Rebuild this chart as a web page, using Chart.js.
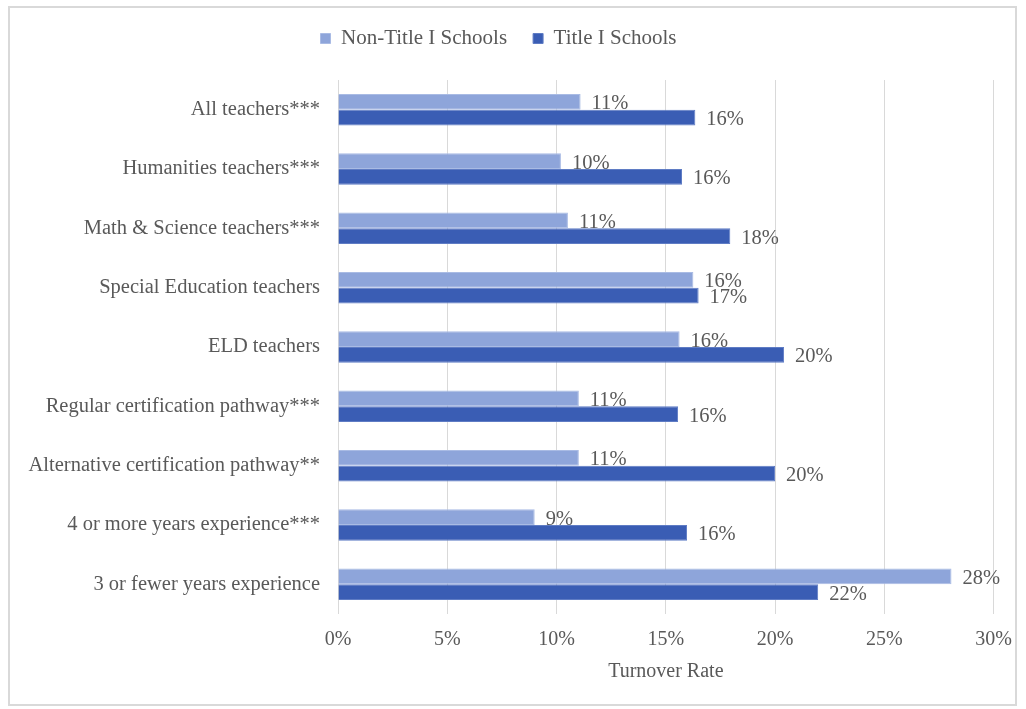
<!DOCTYPE html>
<html>
<head>
<meta charset="utf-8">
<script src="https://cdn.jsdelivr.net/npm/chart.js@4.4.0/dist/chart.umd.min.js"></script>
<style>
  html, body { margin: 0; padding: 0; background: #fff; }
  #wrap { width: 1026px; height: 709px; position: relative; }
</style>
</head>
<body>
<div id="wrap"><canvas id="chart"></canvas></div>
<script>
const categories = [
    'All teachers***',
    'Humanities teachers***',
    'Math & Science teachers***',
    'Special Education teachers',
    'ELD teachers',
    'Regular certification pathway***',
    'Alternative certification pathway**',
    '4 or more years experience***',
    '3 or fewer years experience'
];
const nonTitle = [11.1, 10.2, 10.52, 16.26, 15.63, 11.02, 11.02, 9.0, 28.07];
const titleOne = [16.35, 15.74, 17.95, 16.5, 20.41, 15.56, 20.0, 15.97, 21.97];
const xTicks = [0, 5, 10, 15, 20, 25, 30];

const FONT = "'Liberation Serif', 'DejaVu Serif', serif";
const GREY = '#595959';

// grey frame round the whole chart
const framePlugin = {
    id: 'frame',
    beforeDraw(chart) {
        const ctx = chart.ctx;
        ctx.save();
        ctx.strokeStyle = '#d9d9d9';
        ctx.lineWidth = 2;
        ctx.strokeRect(9, 7, 1007, 698);
        ctx.restore();
    }
};

// percent labels next to each bar end
const valueLabels = {
    id: 'valueLabels',
    afterDatasetsDraw(chart) {
        const ctx = chart.ctx;
        ctx.save();
        ctx.font = '20.5px ' + FONT;
        ctx.fillStyle = GREY;
        ctx.textAlign = 'left';
        ctx.textBaseline = 'middle';
        chart.data.datasets.forEach((ds, i) => {
            chart.getDatasetMeta(i).data.forEach((bar, j) => {
                ctx.fillText(Math.round(ds.data[j]) + '%', bar.x + 11, bar.y + 2);
            });
        });
        ctx.restore();
    }
};

// extra room under the legend
const legendGap = {
    id: 'legendGap',
    beforeInit(chart) {
        const fit = chart.legend.fit;
        chart.legend.fit = function () {
            fit.bind(chart.legend)();
            this.height += 21;
        };
    }
};

new Chart(document.getElementById('chart'), {
    type: 'bar',
    data: {
        labels: categories,
        datasets: [{
            label: 'Non-Title I Schools',
            data: nonTitle,
            backgroundColor: '#8ea5da',
            borderColor: '#a9bbe4',
            borderWidth: 1,
            categoryPercentage: 0.53,
            barPercentage: 1
        }, {
            label: 'Title I Schools',
            data: titleOne,
            backgroundColor: '#3a5db4',
            borderColor: '#5f7cc4',
            borderWidth: 1,
            categoryPercentage: 0.53,
            barPercentage: 1
        }]
    },
    options: {
        indexAxis: 'y',
        responsive: true,
        maintainAspectRatio: false,
        animation: false,
        layout: { padding: { top: 2, right: 29, bottom: 21, left: 0 } },
        plugins: {
            legend: {
                position: 'top',
                labels: {
                    boxWidth: 10,
                    boxHeight: 10,
                    padding: 26,
                    color: GREY,
                    font: { family: FONT, size: 21 }
                }
            },
            tooltip: { enabled: false }
        },
        scales: {
            x: {
                min: 0,
                max: 30,
                afterBuildTicks(scale) {
                    scale.ticks = xTicks.map(v => ({ value: v }));
                },
                grid: { color: '#d9d9d9', drawTicks: false },
                border: { display: false },
                ticks: {
                    padding: 14,
                    color: GREY,
                    font: { family: FONT, size: 20 },
                    callback: v => v + '%'
                },
                title: {
                    display: true,
                    text: 'Turnover Rate',
                    color: GREY,
                    font: { family: FONT, size: 20 },
                    padding: { top: -6, bottom: 4 }
                }
            },
            y: {
                afterFit(scale) { scale.width = 338; },
                grid: { display: false, drawTicks: false },
                border: { display: false },
                ticks: {
                    padding: 18,
                    color: GREY,
                    font: { family: FONT, size: 20.5 }
                }
            }
        }
    },
    plugins: [framePlugin, valueLabels, legendGap]
});
</script>
</body>
</html>
